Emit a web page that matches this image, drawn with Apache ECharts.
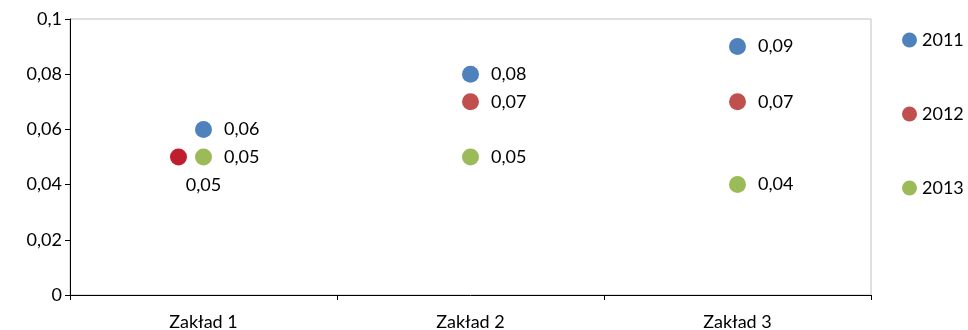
<!DOCTYPE html>
<html><head><meta charset="utf-8">
<script src="https://cdn.jsdelivr.net/npm/echarts@6/dist/echarts.min.js"></script>
<style>html,body{margin:0;padding:0;background:#fff}#c{width:968px;height:330px}</style>
</head><body><div id="c"></div>
<script>
var categories = ['Zakład 1', 'Zakład 2', 'Zakład 3'];
var seriesNames = ['2011', '2012', '2013'];
var values2011 = [0.06, 0.08, 0.09];
var values2012 = [0.05, 0.07, 0.07];
var values2013 = [0.05, 0.05, 0.04];
var yTicks = [0, 0.02, 0.04, 0.06, 0.08, 0.1];

var colors = ['#4F81BD', '#C0504D', '#9BBB59'];
var FONT = 'Lato, "Open Sans", sans-serif';
function fmt(v){ return String(+v.toFixed(2)).replace('.', ','); }

function mk(name, vals, color, special){
  return {
    name: name, type: 'scatter', symbol: 'circle', symbolSize: 17,
    itemStyle: {color: color, opacity: 1},
    label: {show: true, position: 'right', distance: 12, color: '#000', fontSize: 18, fontFamily: FONT,
      formatter: function(p){ return fmt(p.value); }},
    data: vals.map(function(v, i){
      var d = {value: v};
      if (special && special[i]) {
        d.symbolOffset = [-25, 0];
        d.itemStyle = {color: '#BE1E2D'};
        d.label = {position: 'bottom', distance: 11, offset: [25, 0]};
      }
      return d;
    })
  };
}

var chart = echarts.init(document.getElementById('c'));
chart.setOption({
  animation: false,
  backgroundColor: '#fff',
  grid: {left: 70, right: 97, top: 19, bottom: 35, show: true, borderColor: '#BFBFBF', borderWidth: 1, backgroundColor: 'transparent',
    containLabel: false, outerBoundsMode: 'none'},
  legend: {
    orient: 'vertical', left: 902, top: 31, itemGap: 56, itemWidth: 15, itemHeight: 15, icon: 'circle',
    data: seriesNames, textStyle: {fontSize: 18, fontFamily: FONT, color: '#000'}, padding: 0
  },
  xAxis: {
    type: 'category', data: categories, boundaryGap: true,
    axisLine: {lineStyle: {color: '#000', width: 1}},
    axisTick: {show: true, alignWithLabel: false, length: 5, lineStyle: {color: '#000'}},
    axisLabel: {color: '#000', fontSize: 18, fontFamily: FONT, margin: 18},
    splitLine: {show: false}
  },
  yAxis: {
    type: 'value', min: 0, max: 0.1, interval: 0.02,
    axisLine: {show: true, lineStyle: {color: '#000', width: 1}},
    axisTick: {show: true, length: 5, lineStyle: {color: '#000'}},
    axisLabel: {color: '#000', fontSize: 18, fontFamily: FONT, margin: 8,
      formatter: function(v){ return yTicks.indexOf(+v.toFixed(2)) >= 0 ? fmt(v) : ''; }},
    splitLine: {show: false}
  },
  series: [
    mk(seriesNames[0], values2011, colors[0]),
    mk(seriesNames[1], values2012, colors[1], [true, false, false]),
    mk(seriesNames[2], values2013, colors[2])
  ]
});
</script></body></html>
